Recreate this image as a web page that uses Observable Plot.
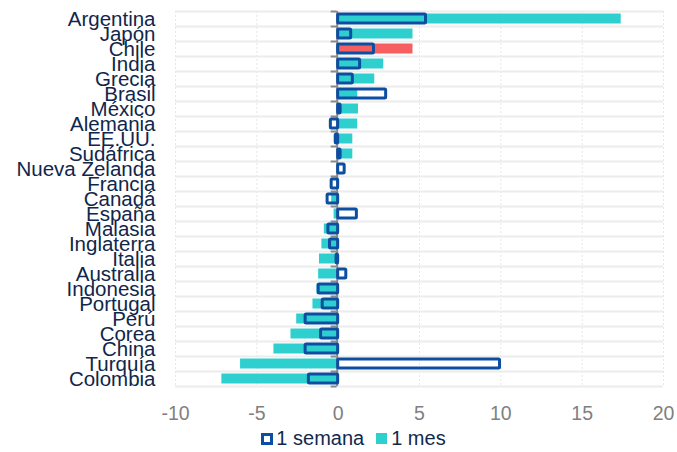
<!DOCTYPE html>
<html>
<head>
<meta charset="utf-8">
<script src="https://cdn.jsdelivr.net/npm/d3@7"></script>
<script src="https://cdn.jsdelivr.net/npm/@observablehq/plot@0.6"></script>
<style>
  html, body { margin: 0; padding: 0; background: #fff; }
  #legend { display: flex; justify-content: center; align-items: center; height: 27px;
    font-family: "Liberation Sans", Arial, sans-serif; font-size: 20px; color: #13294b;
    padding-left: 30px; }
  #legend .item { display: flex; align-items: center; margin: 0 6px; }
  #legend .sw { display: inline-block; width: 12px; height: 12px; box-sizing: border-box; margin-right: 3px; }
</style>
</head>
<body>
<div id="chart"></div>
<div id="legend">
  <span class="item"><span class="sw" style="border:3px solid #0b4ea2;"></span>1 semana</span>
  <span class="item"><span class="sw" style="background:#2ecfcf;width:11px;height:11px;margin-right:4px;"></span>1 mes</span>
</div>
<script>
const paises = ["Argentina","Japón","Chile","India","Grecia","Brasil","México","Alemania","EE.UU.","Sudáfrica","Nueva Zelanda","Francia","Canadá","España","Malasia","Inglaterra","Italia","Australia","Indonesia","Portugal","Perú","Corea","China","Turquía","Colombia"];
const semana = [5.4, 0.8, 2.2, 1.35, 0.9, 2.95, 0.15, -0.45, -0.15, 0.15, 0.4, -0.4, -0.65, 1.15, -0.6, -0.5, -0.1, 0.5, -1.2, -0.95, -2.0, -1.05, -2.0, 9.95, -1.8];
const mes = [17.4, 4.6, 4.6, 2.8, 2.25, 1.2, 1.25, 1.2, 0.9, 0.9, 0, 0, -0.4, -0.25, -0.85, -1.0, -1.15, -1.2, -1.3, -1.55, -2.55, -2.9, -3.95, -6.0, -7.15];
const xTicks = [-10, -5, 0, 5, 10, 15, 20];

const data = paises.map((p, i) => ({pais: p, semana: semana[i], mes: mes[i]}));
const teal = "#2ecfcf", red = "#f65f5f", blue = "#0b4ea2";

const chart = Plot.plot({
  width: 677,
  height: 425,
  marginTop: 11,
  marginBottom: 39,
  marginLeft: 175,
  marginRight: 14,
  style: {fontFamily: "'Liberation Sans', Arial, sans-serif", background: "#fff"},
  x: {domain: [-10, 20], ticks: xTicks},
  y: {domain: paises, padding: 0},
  marks: [
    Plot.ruleX(xTicks, {stroke: "#e6e6e6", strokeWidth: 1, strokeDasharray: "2,2"}),
    Plot.ruleY(paises, {y: d => d, dy: -7.5, stroke: "#ececec", strokeWidth: 2}),
    Plot.ruleY([paises[paises.length - 1]], {y: d => d, dy: 7.5, stroke: "#ececec", strokeWidth: 2}),
    Plot.barX(data, {y: "pais", x1: 0, x2: "mes", fill: d => d.pais === "Chile" ? red : teal, insetTop: 2.5, insetBottom: 2.5}),
    Plot.ruleX([0], {stroke: "#8a8a8a", strokeWidth: 2, dx: -1}),
    Plot.ruleY(paises, {y: d => d, x1: 0, x2: 0, dy: -7.5, insetLeft: -6, dx: -1, stroke: "#8a8a8a", strokeWidth: 2}),
    Plot.ruleY([paises[paises.length - 1]], {y: d => d, x1: 0, x2: 0, dy: 7.5, insetLeft: -6, dx: -1, stroke: "#8a8a8a", strokeWidth: 2}),
    Plot.barX(data, {y: "pais", x1: 0, x2: "semana", fill: "none", stroke: blue, strokeWidth: 3, insetTop: 3, insetBottom: 3, rx: 1}),
    Plot.axisY({tickSize: 0, tickPadding: 20, fontSize: 20.5, fill: "#10264a", label: null}),
    Plot.axisX({ticks: xTicks, tickSize: 0, tickPadding: 20, fontSize: 19.5, fill: "#808080", label: null, tickFormat: d => String(d)})
  ]
});
document.getElementById("chart").appendChild(chart);
</script>
</body>
</html>
